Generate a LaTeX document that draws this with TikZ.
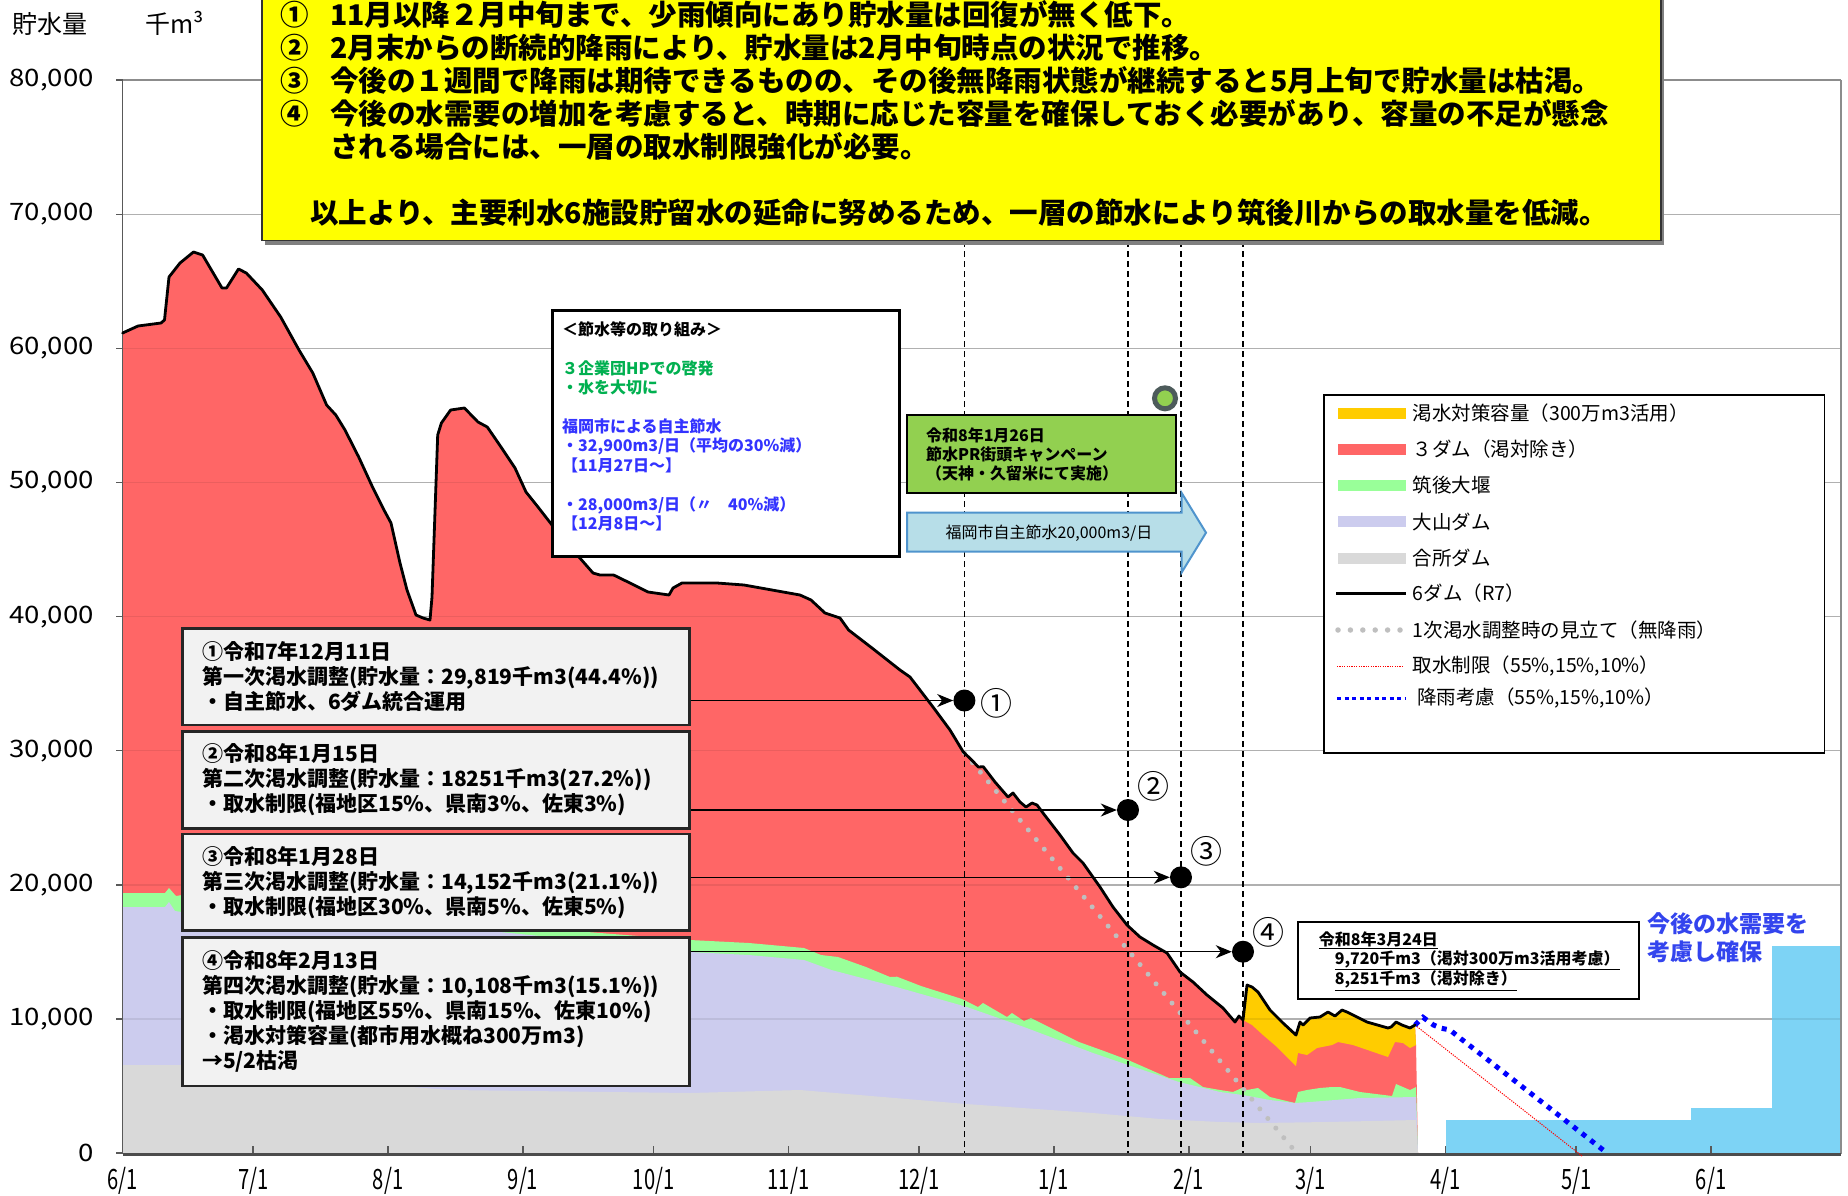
\documentclass[tikz,border=0pt]{standalone}
\usepackage{fontspec}
\setmainfont{Noto Sans CJK JP}
\newfontfamily\xlf{Noto Sans CJK JP}[FakeStretch=0.72]
\newfontfamily\ylf{Noto Sans CJK JP}[FakeStretch=1.15]
\usetikzlibrary{arrows.meta}
\definecolor{cRed}{HTML}{FF6666}
\definecolor{cOra}{HTML}{FFCC00}
\definecolor{cGrn}{HTML}{99FF99}
\definecolor{cLav}{HTML}{CCCCEE}
\definecolor{cGry}{HTML}{D9D9D9}
\definecolor{cYel}{HTML}{FFFF00}
\definecolor{cBox}{HTML}{F2F2F2}
\definecolor{cSky}{HTML}{7DD3F5}
\definecolor{cCamp}{HTML}{92D050}
\definecolor{cArw}{HTML}{B7DEE8}
\definecolor{cArwB}{HTML}{4F94CD}
\definecolor{cGT}{HTML}{00B050}
\definecolor{cBT}{HTML}{3333FF}
\definecolor{cBT2}{HTML}{3344EE}
\definecolor{cGrid}{HTML}{BFBFBF}
\definecolor{cRing}{HTML}{4D5B5B}
\newcommand\fs[2]{\fontsize{#1}{#2}\selectfont}
\begin{document}
\begin{tikzpicture}[x=1pt,y=-1pt,
  gridl/.style={draw=cGrid,line width=1.5pt},
  axl/.style={draw=black!65,line width=1.5pt},
  totl/.style={draw=black,line width=2.8pt,line join=round,line cap=round},
  vdash/.style={draw=black,line width=1.3pt,dash pattern=on 6pt off 4pt},
  cbox/.style={rectangle,draw=black!85,line width=2.5pt,fill=cBox,inner sep=0pt,minimum width=507pt,text width=468pt,align=left,font=\bfseries\fs{21}{25}},
  bdot/.style={circle,fill=black,minimum size=22pt,inner sep=0pt},
  cnum/.style={font=\fs{32}{32},inner sep=0pt},
  arr/.style={draw=black,line width=1.3pt,-{Stealth[length=16pt,width=13pt,inset=5pt]}},
  lgt/.style={font=\fs{19.5}{22},anchor=west,inner sep=0pt},
  ylab/.style={font=\ylf\fs{24}{24},anchor=east,inner sep=0pt},
  xlab/.style={font=\xlf\fs{28}{28},inner sep=0pt}]
\useasboundingbox (0,0) rectangle (1848,1195);
\clip (0,0) rectangle (1848,1195);
\fill[white] (0,0) rectangle (1848,1195);
% grid
\foreach \k in {1,...,7} \draw[gridl] (122.6,{1153-134.1*\k}) -- (1841,{1153-134.1*\k});
\draw[draw=black!45,line width=1.8pt] (122.6,80.2) -- (1841,80.2);
% future demand bars
\fill[cSky] (1446,1120) rectangle (1691,1153);
\fill[cSky] (1691,1108) rectangle (1772,1153);
\fill[cSky] (1772,946) rectangle (1841,1153);
% stacked areas
\fill[cRed] (122.6,1153) -- plot coordinates {(122.6,333) (138,326) (161,323) (164.5,320) (169,277) (180,263) (193.5,252) (202.6,255) (222,288) (226.5,288) (238.5,269) (246.3,273) (262.3,290) (280.7,317) (299,350) (312.8,373) (326.6,405) (335.8,415) (345,430) (358.7,457) (372.5,487) (384,510) (391,523) (400,563) (407,590) (416,615) (423,618) (430,620) (432,597) (437.7,435) (441.4,423) (450.6,410) (464.4,408) (478,422) (487.3,427) (501,447) (515,468) (526,492) (538,507) (552,525) (565,541) (579,557) (593,573) (600,575) (613.6,575) (630,583) (648,592) (669,595) (673,588) (682,583) (717,583) (744,585) (772,590) (800,595) (811,600) (825,613) (840,618) (848.6,630) (872,648) (900,670) (910,677) (933,707) (950,730) (963.3,752) (971.7,760) (978.3,767) (983.3,766.7) (995,782) (1008,797) (1013,793) (1020,802) (1026,807) (1032,803) (1037,805) (1043,813) (1060,835) (1073,853) (1083,863) (1100,887) (1113,907) (1127,925) (1140,937) (1153,945) (1167,953) (1180,972) (1193,982) (1207,995) (1223,1008) (1235,1022) (1239,1016) (1243,1020) (1247,985) (1252,987) (1258,992) (1270,1010) (1283,1023) (1296,1035) (1300,1022) (1303,1025) (1310,1018) (1320,1017) (1328,1012) (1335,1016) (1342,1010) (1347,1012) (1367,1022) (1388,1028) (1391,1027) (1396,1022) (1402,1025) (1410,1028) (1415,1025)} -- (1416,1045) -- (1418,1153) -- cycle;
\fill[cOra] plot coordinates {(1243,1020) (1247,985) (1252,987) (1258,992) (1270,1010) (1283,1023) (1296,1035) (1300,1022) (1303,1025) (1310,1018) (1320,1017) (1328,1012) (1335,1016) (1342,1010) (1347,1012) (1367,1022) (1388,1028) (1391,1027) (1396,1022) (1402,1025) (1410,1028) (1415,1025) (1416,1045) (1410,1048) (1403,1043) (1395,1042) (1388,1057) (1353,1045) (1338,1042) (1332,1045) (1317,1048) (1307,1055) (1298,1053) (1296,1066) (1277,1047) (1263,1035) (1252,1025)} -- cycle;
\fill[cGrn] (122.6,1153) -- plot coordinates {(122.6,893) (165,893) (169,888) (176,896) (182,895) (300,905) (420,915) (500,925) (600,933) (690,940) (749,943) (804,948) (821,955) (838,957) (866,967) (890,977) (897,976.7) (921,986) (962,999) (978,1007) (983,1003) (1007,1017) (1012,1013) (1024,1021) (1031,1018) (1055,1030) (1079,1042) (1104,1051) (1128,1060) (1169,1078) (1190,1078) (1203,1087) (1220,1090) (1233,1092) (1242,1088) (1247,1090) (1258,1088) (1270,1097) (1295,1103) (1298,1092) (1307,1090) (1320,1088) (1332,1087) (1340,1087) (1360,1092) (1392,1096) (1396,1084) (1403,1087) (1410,1090) (1416,1087)} -- (1418,1153) -- cycle;
\fill[cLav] (122.6,1153) -- plot coordinates {(122.6,907) (165,907) (169,902) (175,911) (182,912) (300,918) (420,925) (500,932) (600,942) (690,952) (749,955) (804,960) (831.5,970) (900,988) (966,1006.7) (1024,1027) (1093,1053) (1128,1065) (1179,1082) (1220,1092) (1243,1095) (1270,1100) (1295,1103) (1310,1102) (1360,1098) (1416,1097)} -- (1418,1153) -- cycle;
\fill[cGry] (122.6,1153) -- plot coordinates {(122.6,1065) (180,1065) (260,1075) (450,1090) (690,1093) (800,1090) (966,1104) (1093,1113) (1160,1119) (1220,1122) (1260,1123) (1327,1122) (1416,1120)} -- (1418,1153) -- cycle;
% faint grid over areas
\foreach \k in {1,...,7} \draw[draw=black,opacity=0.08,line width=1.5pt] (122.6,{1153-134.1*\k}) -- (1841,{1153-134.1*\k});
% axes
\draw[axl] (122.6,80.2) -- (122.6,1154);
\draw[draw=black!45,line width=1.5pt] (1841,80.2) -- (1841,1154);
\draw[draw=black!70,line width=3pt] (122.6,1154) -- (1841,1154);
\foreach \k/\t in {0/0,1/{10,000},2/{20,000},3/{30,000},4/{40,000},5/{50,000},6/{60,000},7/{70,000},8/{80,000}}{
  \draw[axl] (116,{1153-134.1*\k}) -- (122.6,{1153-134.1*\k});
  \node[ylab] (yl\k) at (94,{1153-134.1*\k}) {\t};
}
\foreach \d/\m [count=\i] in {0/6,30/7,61/8,92/9,122/10,153/11,183/12,214/1,245/2,273/3,304/4,334/5,365/6}{
  \draw[axl] ({122.6+4.352*\d},1153) -- ({122.6+4.352*\d},1146);
  \node[xlab] (xl\i) at ({122.6+4.352*\d},1181) {\m/1};
}
% forecast lines
\draw[draw=black!25,line width=5pt,line cap=round,dash pattern=on 0pt off 12.5pt] (964.4,753) -- (1294,1150);
\draw[draw=red,line width=1pt,dash pattern=on 1.2pt off 1.2pt] (1415,1025) -- (1582,1156);
\draw[draw=blue,line width=5pt,dash pattern=on 5pt off 6pt] plot coordinates {(1415,1025) (1423,1017.3) (1433.5,1025) (1441.7,1028.3) (1450,1030) (1458.3,1036.7) (1607,1153)};
% total line
\draw[totl] plot coordinates {(122.6,333) (138,326) (161,323) (164.5,320) (169,277) (180,263) (193.5,252) (202.6,255) (222,288) (226.5,288) (238.5,269) (246.3,273) (262.3,290) (280.7,317) (299,350) (312.8,373) (326.6,405) (335.8,415) (345,430) (358.7,457) (372.5,487) (384,510) (391,523) (400,563) (407,590) (416,615) (423,618) (430,620) (432,597) (437.7,435) (441.4,423) (450.6,410) (464.4,408) (478,422) (487.3,427) (501,447) (515,468) (526,492) (538,507) (552,525) (565,541) (579,557) (593,573) (600,575) (613.6,575) (630,583) (648,592) (669,595) (673,588) (682,583) (717,583) (744,585) (772,590) (800,595) (811,600) (825,613) (840,618) (848.6,630) (872,648) (900,670) (910,677) (933,707) (950,730) (963.3,752) (971.7,760) (978.3,767) (983.3,766.7) (995,782) (1008,797) (1013,793) (1020,802) (1026,807) (1032,803) (1037,805) (1043,813) (1060,835) (1073,853) (1083,863) (1100,887) (1113,907) (1127,925) (1140,937) (1153,945) (1167,953) (1180,972) (1193,982) (1207,995) (1223,1008) (1235,1022) (1239,1016) (1243,1020) (1247,985) (1252,987) (1258,992) (1270,1010) (1283,1023) (1296,1035) (1300,1022) (1303,1025) (1310,1018) (1320,1017) (1328,1012) (1335,1016) (1342,1010) (1347,1012) (1367,1022) (1388,1028) (1391,1027) (1396,1022) (1402,1025) (1410,1028) (1415,1025)};
% dashed verticals
\foreach \x in {964.4,1128,1181,1243} \draw[vdash] (\x,241) -- (\x,1153);
% yellow summary box
\fill[black!50] (265,-10) rectangle (1664,245);
\node[draw=black!80,fill=cYel,line width=1.5pt,minimum width=1399pt,minimum height=251pt,inner sep=0pt,anchor=south west] (ybox) at (261,241) {};
\node[anchor=west,inner sep=0pt,align=left,font=\bfseries\fs{28.5}{33}] (ytext) at (280,113) {%
\makebox[50pt][l]{①}11月以降２月中旬まで、少雨傾向にあり貯水量は回復が無く低下。\\
\makebox[50pt][l]{②}2月末からの断続的降雨により、貯水量は2月中旬時点の状況で推移。\\
\makebox[50pt][l]{③}今後の１週間で降雨は期待できるものの、その後無降雨状態が継続すると5月上旬で貯水量は枯渇。\\
\makebox[50pt][l]{④}今後の水需要の増加を考慮すると、時期に応じた容量を確保しておく必要があり、容量の不足が懸念\\
\hspace*{50pt}される場合には、一層の取水制限強化が必要。\\[33pt]
\hspace*{30pt}以上より、主要利水6施設貯留水の延命に努めるため、一層の節水により筑後川からの取水量を低減。};
% water-saving box
\node[draw=black,fill=white,line width=3pt,minimum width=347pt,minimum height=246pt,inner sep=0pt] (sbox) at (726,433) {};
\node[anchor=west,inner sep=0pt,align=left,font=\bfseries\fs{16}{19.4}] (stext) at (562,426.4) {%
＜節水等の取り組み＞\\[19.4pt]
{\color{cGT}３企業団HPでの啓発}\\
{\color{cGT}・水を大切に}\\[19.4pt]
{\color{cBT}福岡市による自主節水}\\
{\color{cBT}・32,900m3/日（平均の30\%減）}\\
{\color{cBT}【11月27日～】}\\[19.4pt]
{\color{cBT}・28,000m3/日（〃　40\%減）}\\
{\color{cBT}【12月8日～】}};
% campaign
\node[circle,draw=cRing,line width=5pt,fill=cCamp,minimum size=21pt,inner sep=0pt] (ring) at (1165,398.3) {};
\node[draw=black,fill=cCamp,line width=2pt,minimum width=269pt,minimum height=78pt,inner sep=0pt,text width=231pt,align=left,font=\bfseries\fs{16}{19}] (camp) at (1041.5,454) {令和8年1月26日\\節水PR街頭キャンペーン\\（天神・久留米にて実施）};
\filldraw[fill=cArw,draw=cArwB,line width=2pt,line join=miter] (907,512.7) -- (1181.5,512.7) -- (1181.5,492.7) -- (1206,532.7) -- (1181.5,572.7) -- (1181.5,551.7) -- (907,551.7) -- cycle;
\node[inner sep=0pt,font=\fs{16}{16}] (arwt) at (1049,533) {福岡市自主節水20,000m3/日};
% legend
\node[draw=black,fill=white,line width=1.5pt,minimum width=500.5pt,minimum height=358pt,inner sep=0pt] (leg) at (1574,574) {};
\fill[cOra] (1337.7,408) rectangle (1405.6,419);
\fill[cRed] (1337.7,444) rectangle (1405.6,455);
\fill[cGrn] (1337.7,480) rectangle (1405.6,491);
\fill[cLav] (1337.7,516) rectangle (1405.6,527);
\fill[cGry] (1337.7,553) rectangle (1405.6,564);
\draw[draw=black,line width=2.5pt] (1336,593.3) -- (1405.6,593.3);
\draw[draw=black!25,line width=5.5pt,line cap=round,dash pattern=on 0pt off 12.4pt] (1338,630) -- (1401,630);
\draw[draw=red,line width=1pt,dash pattern=on 1.2pt off 1.2pt] (1337,666) -- (1404,666);
\draw[draw=blue,line width=3.5pt,dash pattern=on 4pt off 3.5pt] (1337,698.3) -- (1405,698.3);
\node[lgt] (lg1) at (1412.5,413.3) {渇水対策容量（300万m3活用）};
\node[lgt] (lg2) at (1412.5,449.3) {３ダム（渇対除き）};
\node[lgt] (lg3) at (1412.5,485.3) {筑後大堰};
\node[lgt] (lg4) at (1412.5,521.7) {大山ダム};
\node[lgt] (lg5) at (1412.5,558.3) {合所ダム};
\node[lgt] (lg6) at (1412.5,593.3) {6ダム（R7）};
\node[lgt] (lg7) at (1412.5,630) {1次渇水調整時の見立て（無降雨）};
\node[lgt] (lg8) at (1412.5,666) {取水制限（55\%,15\%,10\%）};
\node[lgt] (lg9) at (1417,698.3) {降雨考慮（55\%,15\%,10\%）};
% drought adjustment boxes
\node[cbox,minimum height=96.5pt] (b1) at (436,676.5) {①令和7年12月11日\\第一次渇水調整(貯水量：29,819千m3(44.4\%))\\・自主節水、6ダム統合運用};
\node[cbox,minimum height=97pt] (b2) at (436,780) {②令和8年1月15日\\第二次渇水調整(貯水量：18251千m3(27.2\%))\\・取水制限(福地区15\%、県南3\%、佐東3\%)};
\node[cbox,minimum height=96.7pt] (b3) at (436,882.3) {③令和8年1月28日\\第三次渇水調整(貯水量：14,152千m3(21.1\%))\\・取水制限(福地区30\%、県南5\%、佐東5\%)};
\node[cbox,minimum height=148.7pt] (b4) at (436,1011.6) {④令和8年2月13日\\第四次渇水調整(貯水量：10,108千m3(15.1\%))\\・取水制限(福地区55\%、県南15\%、佐東10\%)\\・渇水対策容量(都市用水概ね300万m3)\\→5/2枯渇};
% markers
\node[bdot] (d1) at (964.4,700.5) {};
\node[bdot] (d2) at (1128,810) {};
\node[bdot] (d3) at (1181,877.3) {};
\node[bdot] (d4) at (1243,951.7) {};
\node[cnum] (n1) at (996,703) {①};
\node[cnum] (n2) at (1153,786.7) {②};
\node[cnum] (n3) at (1206,851.7) {③};
\node[cnum] (n4) at (1268.3,932.7) {④};
\draw[arr] (b1.east |- d1) -- (d1.west);
\draw[arr] (b2.east |- d2) -- (d2.west);
\draw[arr] (b3.east |- d3) -- (d3.west);
\draw[arr] (b4.east |- d4) -- (d4.west);
% 3/24 box
\node[draw=black,fill=white,line width=2pt,minimum width=340.5pt,minimum height=77.3pt,inner sep=0pt] (mbox) at (1468.5,960.4) {};
\node[anchor=west,inner sep=0pt,align=left,font=\bfseries\fs{16}{19.2}] (mtext) at (1318.6,961) {\underline{令和8年3月24日}\\\hspace*{16pt}\underline{9,720千m3（渇対300万m3活用考慮）}\\\hspace*{16pt}\underline{8,251千m3（渇対除き）}};
% demand note
\node[anchor=west,inner sep=0pt,align=left,text=cBT2,font=\bfseries\fs{23}{28}] (btxt) at (1647.7,938) {今後の水需要を\\考慮し確保};
% title
\node[anchor=west,inner sep=0pt,font=\fs{25}{25}] (t1) at (12,23.6) {貯水量};
\node[anchor=west,inner sep=0pt,font=\fs{25}{25}] (t2) at (145,23.6) {千m³};
\end{tikzpicture}
\end{document}
